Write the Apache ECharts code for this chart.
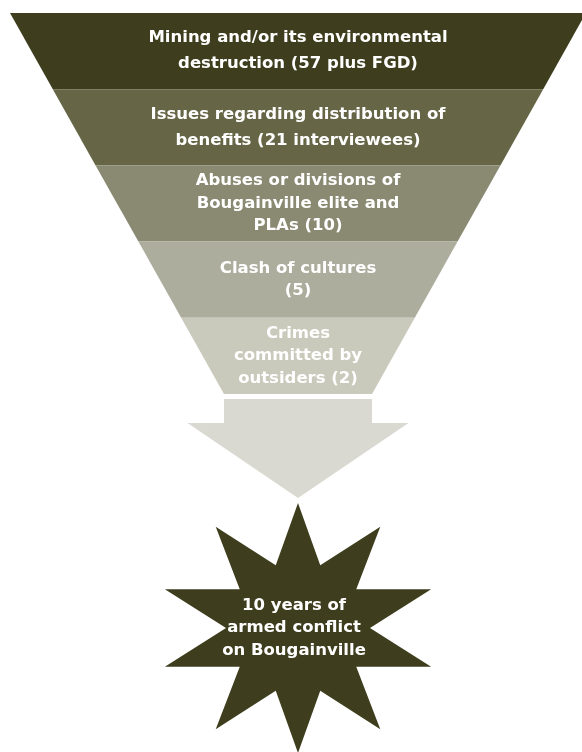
<!DOCTYPE html>
<html>
<head>
<meta charset="utf-8">
<script src="https://cdn.jsdelivr.net/npm/echarts@6/dist/echarts.min.js"></script>
<style>
html,body{margin:0;padding:0;background:#ffffff;}
#chart{width:582px;height:752px;}
</style>
</head>
<body>
<div id="chart"></div>
<script>
// ---- data ----
var categories = [
  'Mining and/or its environmental\ndestruction (57 plus FGD)',
  'Issues regarding distribution of\nbenefits (21 interviewees)',
  'Abuses or divisions of\nBougainville elite and\nPLAs (10)',
  'Clash of cultures\n(5)',
  'Crimes\ncommitted by\noutsiders (2)'
];
var interviewees = [57, 21, 10, 5, 2];
var levels = [5, 4, 3, 2, 1];          // funnel rank (width) of each band
var bandColors = ['#3e3e1e', '#666647', '#8a8a73', '#adad9e', '#c9c9bc'];
var lineHeights = [26, 26, 22.5, 22.5, 22.5];
var outcome = '10 years of\narmed conflict\non Bougainville';

// ---- layout ----
var CX = 298;
var FONT = '"DejaVu Sans", sans-serif';
var FSIZE = 16.5;

var chart = echarts.init(document.getElementById('chart'), null, {renderer: 'canvas'});

var funnelData = categories.map(function (c, i) {
  return {
    name: c,
    value: levels[i],
    count: interviewees[i],
    itemStyle: {color: bandColors[i]},
    label: {lineHeight: lineHeights[i]}
  };
});

// arrow
var arrow = {
  shaftTop: 399, shaftBottom: 423, shaftHalf: 74,
  headHalf: 110.5, tip: 498
};
var arrowPts = [
  [CX - arrow.shaftHalf, arrow.shaftTop],
  [CX + arrow.shaftHalf, arrow.shaftTop],
  [CX + arrow.shaftHalf, arrow.shaftBottom],
  [CX + arrow.headHalf, arrow.shaftBottom],
  [CX, arrow.tip],
  [CX - arrow.headHalf, arrow.shaftBottom],
  [CX - arrow.shaftHalf, arrow.shaftBottom]
];

// star (10 points)
var star = {cx: 298, cy: 628, Rx: 140, Ry: 125, rx: 72, ry: 66, n: 10};
var starPts = [];
for (var k = 0; k < star.n * 2; k++) {
  var ang = -Math.PI / 2 + k * Math.PI / star.n;
  var outer = k % 2 === 0;
  starPts.push([
    star.cx + (outer ? star.Rx : star.rx) * Math.cos(ang),
    star.cy + (outer ? star.Ry : star.ry) * Math.sin(ang)
  ]);
}

chart.setOption({
  animation: false,
  backgroundColor: '#ffffff',
  series: [{
    type: 'funnel',
    left: 10,
    top: 13,
    width: 576,
    height: 381,
    min: 0,
    max: 5,
    minSize: 148,
    maxSize: 576,
    sort: 'descending',
    gap: 0,
    silent: true,
    funnelAlign: 'center',
    itemStyle: {borderWidth: 0},
    label: {
      show: true,
      position: 'inside',
      color: '#ffffff',
      fontFamily: FONT,
      fontWeight: 'bold',
      fontSize: FSIZE,
      formatter: '{b}'
    },
    labelLine: {show: false},
    emphasis: {disabled: true},
    data: funnelData
  }],
  graphic: [
    {
      type: 'polygon',
      shape: {points: arrowPts},
      style: {fill: '#d9d9d1'},
      silent: true
    },
    {
      type: 'polygon',
      shape: {points: starPts},
      style: {fill: '#3e3e1e'},
      silent: true
    },
    {
      type: 'text',
      x: star.cx - 4,
      y: star.cy,
      style: {
        text: outcome,
        fill: '#ffffff',
        font: 'bold ' + FSIZE + 'px ' + FONT,
        lineHeight: 22.5,
        align: 'center',
        verticalAlign: 'middle'
      },
      silent: true
    }
  ]
});
</script>
</body>
</html>
